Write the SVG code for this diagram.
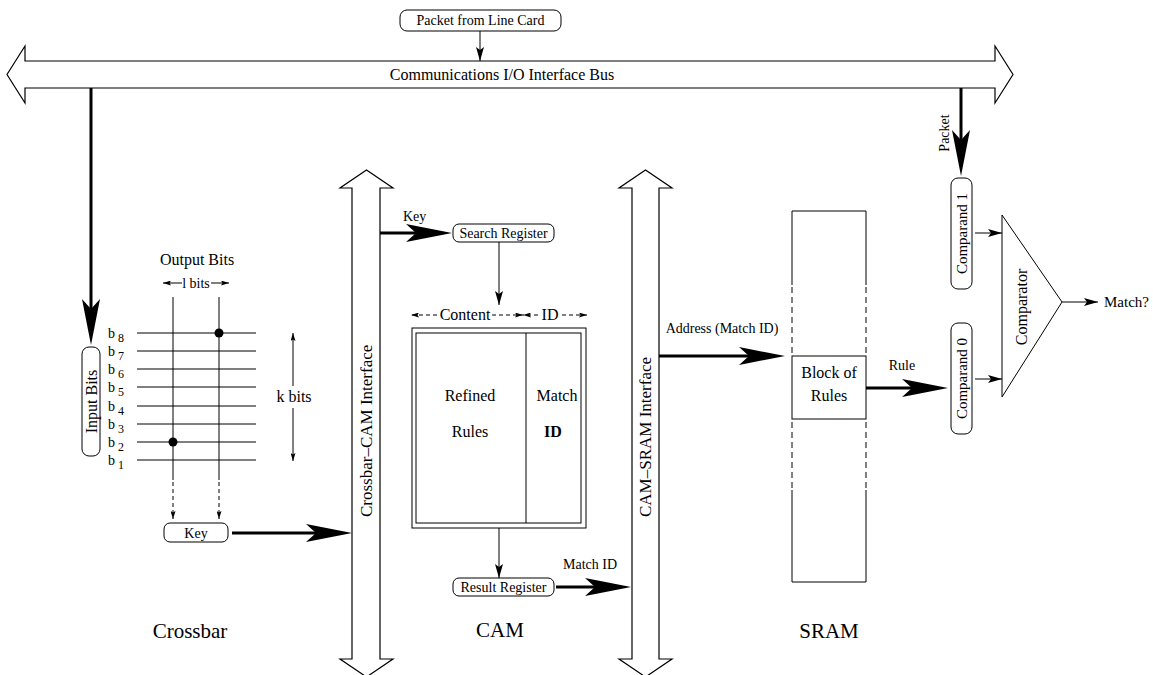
<svg xmlns="http://www.w3.org/2000/svg" width="1153" height="675" viewBox="0 0 1153 675">
<style>
.t{font-family:"Liberation Serif","Times New Roman",serif;fill:#000}
.s12{font-size:12px}.s14{font-size:14px}.s15{font-size:15px}.s16{font-size:16px}.s21{font-size:21px}
.m{text-anchor:middle}
.ln{stroke:#000;stroke-width:1;fill:none}
.dash{stroke:#000;stroke-width:1;fill:none;stroke-dasharray:4 3}
.sdash{stroke:#000;stroke-width:1;fill:none;stroke-dasharray:6 4}
.thick{stroke:#000;stroke-width:3;fill:none;marker-end:url(#big)}
.box{fill:#fff;stroke:#000;stroke-width:1}
.bus{fill:#fff;stroke:#000;stroke-width:1.2}
</style>
<defs>
<marker id="big" markerUnits="userSpaceOnUse" viewBox="0 0 46 18" refX="10" refY="9" markerWidth="46" markerHeight="18" orient="auto">
<path d="M0,0 L46,9 L0,18 L10,9 Z" fill="#000"/>
</marker>
<marker id="sm" markerUnits="userSpaceOnUse" viewBox="0 0 14 8" refX="14" refY="4" markerWidth="14" markerHeight="8" orient="auto">
<path d="M0,0 L14,4 L0,8 L3,4 Z" fill="#000"/>
</marker>
<marker id="tiny" markerUnits="userSpaceOnUse" viewBox="0 0 8 5" refX="8" refY="2.5" markerWidth="8" markerHeight="5" orient="auto">
<path d="M0,0 L8,2.5 L0,5 L1.5,2.5 Z" fill="#000"/>
</marker>
</defs>

<g id="io-bus">
<polygon class="bus" points="25,61 25,46 7,74.5 25,103 25,88 995,88 995,103 1013,74.5 995,46 995,61"/>
<text class="t s16 m" x="502" y="80">Communications I/O Interface Bus</text>
</g>

<g id="packet-line-card">
<rect class="box" x="400" y="10" width="161" height="21" rx="7"/>
<text class="t s14 m" x="480.5" y="25">Packet from Line Card</text>
</g>

<g id="crossbar">
<text class="t s16 m" x="197" y="265">Output Bits</text>
<text class="t s14 m" x="196" y="288">l bits</text>
<g class="ln">
<line x1="173" y1="297" x2="173" y2="480"/>
<line x1="219" y1="297" x2="219" y2="480"/>
<line x1="137" y1="333" x2="256" y2="333"/>
<line x1="137" y1="351" x2="256" y2="351"/>
<line x1="137" y1="369" x2="256" y2="369"/>
<line x1="137" y1="387" x2="256" y2="387"/>
<line x1="137" y1="406" x2="256" y2="406"/>
<line x1="137" y1="424" x2="256" y2="424"/>
<line x1="137" y1="442" x2="256" y2="442"/>
<line x1="137" y1="460" x2="256" y2="460"/>
</g>
<circle cx="219" cy="333" r="4.5" fill="#000"/>
<circle cx="173" cy="442" r="4.5" fill="#000"/>
<g class="t s14">
<text x="108" y="338">b</text><text class="s12" x="118" y="342">8</text>
<text x="108" y="356">b</text><text class="s12" x="118" y="360">7</text>
<text x="108" y="374">b</text><text class="s12" x="118" y="378">6</text>
<text x="108" y="392">b</text><text class="s12" x="118" y="396">5</text>
<text x="108" y="411">b</text><text class="s12" x="118" y="415">4</text>
<text x="108" y="429">b</text><text class="s12" x="118" y="433">3</text>
<text x="108" y="447">b</text><text class="s12" x="118" y="451">2</text>
<text x="108" y="465">b</text><text class="s12" x="118" y="469">1</text>
</g>
<text class="t s16 m" x="294" y="402">k bits</text>
<text class="t s21 m" x="190" y="638">Crossbar</text>
</g>

<g id="input-bits">
<rect class="box" x="82" y="347" width="18" height="109" rx="7"/>
<text class="t s16 m" transform="translate(91,401.5) rotate(-90)" dy="5.5">Input Bits</text>
</g>

<g id="key-box">
<rect class="box" x="164" y="523" width="64" height="19" rx="6"/>
<text class="t s14 m" x="196" y="537.5">Key</text>
</g>

<g id="crossbar-cam-interface">
<polygon class="bus" points="352,188 340,188 366.5,170 393,188 380,188 380,659 393,659 366.5,677 340,659 352,659"/>
<text class="t s17" style="font-size:17px" transform="translate(366,517) rotate(-90)" dy="6">Crossbar–CAM Interface</text>
</g>

<g id="search-register">
<rect class="box" x="453" y="224" width="101" height="18" rx="6"/>
<text class="t s14 m" x="503.5" y="238">Search Register</text>
</g>

<g id="cam">
<rect class="ln" x="412" y="328" width="174" height="200"/>
<rect class="ln" x="416" y="333" width="165" height="190"/>
<line class="ln" x1="526" y1="333" x2="526" y2="523"/>
<text class="t s16 m" x="465" y="320">Content</text>
<text class="t s16 m" x="550" y="320">ID</text>
<text class="t s16 m" x="470" y="401">Refined</text>
<text class="t s16 m" x="470" y="437">Rules</text>
<text class="t s16 m" x="557" y="401">Match</text>
<text class="t s16 m" x="553" y="437" font-weight="bold">ID</text>
<text class="t s21 m" x="500" y="637">CAM</text>
</g>

<g id="result-register">
<rect class="box" x="453" y="578" width="101" height="18" rx="6"/>
<text class="t s14 m" x="503.5" y="592">Result Register</text>
</g>

<g id="cam-sram-interface">
<polygon class="bus" points="632,188 619,188 645.5,170 672,188 659,188 659,659 672,659 645.5,677 619,659 632,659"/>
<text class="t" style="font-size:17px" transform="translate(645,517) rotate(-90)" dy="6">CAM–SRAM Interface</text>
</g>

<g id="sram">
<line class="ln" x1="792" y1="211" x2="866" y2="211"/>
<line class="ln" x1="792" y1="211" x2="792" y2="285"/>
<line class="ln" x1="866" y1="211" x2="866" y2="285"/>
<line class="sdash" x1="792" y1="287" x2="792" y2="356"/>
<line class="sdash" x1="866" y1="287" x2="866" y2="356"/>
<line class="sdash" x1="792" y1="422" x2="792" y2="490"/>
<line class="sdash" x1="866" y1="422" x2="866" y2="490"/>
<line class="ln" x1="792" y1="490" x2="792" y2="582"/>
<line class="ln" x1="866" y1="490" x2="866" y2="582"/>
<line class="ln" x1="792" y1="582" x2="866" y2="582"/>
<text class="t s21 m" x="829" y="638">SRAM</text>
</g>

<g id="block-of-rules">
<rect class="ln" x="792" y="356" width="74" height="63"/>
<text class="t s16 m" x="829" y="378">Block of</text>
<text class="t s16 m" x="829" y="401">Rules</text>
</g>

<g id="comparand-1">
<rect class="box" x="951" y="178" width="21" height="111" rx="7"/>
<text class="t s15 m" transform="translate(961.5,233.5) rotate(-90)" dy="5">Comparand 1</text>
</g>

<g id="comparand-0">
<rect class="box" x="951" y="323" width="21" height="111" rx="7"/>
<text class="t s15 m" transform="translate(961.5,378.5) rotate(-90)" dy="5">Comparand 0</text>
</g>

<g id="comparator">
<polygon class="box" points="1002,215 1002,397 1062,302"/>
<text class="t s16 m" transform="translate(1021,307) rotate(-90)" dy="5.5">Comparator</text>
</g>

<g id="match-output">
<text class="t s15" x="1104" y="307">Match?</text>
</g>

<g id="connectors">
<line class="ln" x1="480" y1="31" x2="480" y2="61" marker-end="url(#sm)"/>
<line class="thick" x1="91" y1="88" x2="91" y2="309"/>
<line class="ln" x1="182" y1="283" x2="163" y2="283" marker-end="url(#tiny)"/>
<line class="ln" x1="211" y1="283" x2="229" y2="283" marker-end="url(#tiny)"/>
<line class="ln" x1="293" y1="386" x2="293" y2="333" marker-end="url(#tiny)"/>
<line class="ln" x1="293" y1="408" x2="293" y2="461" marker-end="url(#tiny)"/>
<line class="dash" x1="173" y1="482" x2="173" y2="519" marker-end="url(#tiny)"/>
<line class="dash" x1="219" y1="482" x2="219" y2="519" marker-end="url(#tiny)"/>
<line class="thick" x1="232" y1="533" x2="316" y2="533"/>
<text class="t s14" x="403" y="221">Key</text>
<line class="thick" x1="380" y1="233" x2="416" y2="233"/>
<line class="ln" x1="499" y1="242" x2="499" y2="305" marker-end="url(#sm)"/>
<line class="dash" x1="437" y1="315" x2="411" y2="315" marker-end="url(#tiny)"/>
<line class="dash" x1="492" y1="315" x2="523" y2="315" marker-end="url(#tiny)"/>
<line class="dash" x1="538" y1="315" x2="523" y2="315" marker-end="url(#tiny)"/>
<line class="dash" x1="562" y1="315" x2="587" y2="315" marker-end="url(#tiny)"/>
<line class="ln" x1="499" y1="528" x2="499" y2="578" marker-end="url(#sm)"/>
<text class="t s14 m" x="590" y="569">Match ID</text>
<line class="thick" x1="556" y1="587" x2="595" y2="587"/>
<text class="t s14 m" x="722" y="333">Address (Match ID)</text>
<line class="thick" x1="659" y1="356" x2="749" y2="356"/>
<text class="t s14 m" x="902" y="370">Rule</text>
<line class="thick" x1="866" y1="388" x2="912" y2="388"/>
<line class="thick" x1="961" y1="88" x2="961" y2="140"/>
<text class="t s14 m" transform="translate(944,133) rotate(-90)" dy="5">Packet</text>
<line class="ln" x1="975" y1="233" x2="1002" y2="233" marker-end="url(#sm)"/>
<line class="ln" x1="975" y1="379" x2="1002" y2="379" marker-end="url(#sm)"/>
<line class="ln" x1="1062" y1="302" x2="1098" y2="302" marker-end="url(#sm)"/>
</g>
</svg>
